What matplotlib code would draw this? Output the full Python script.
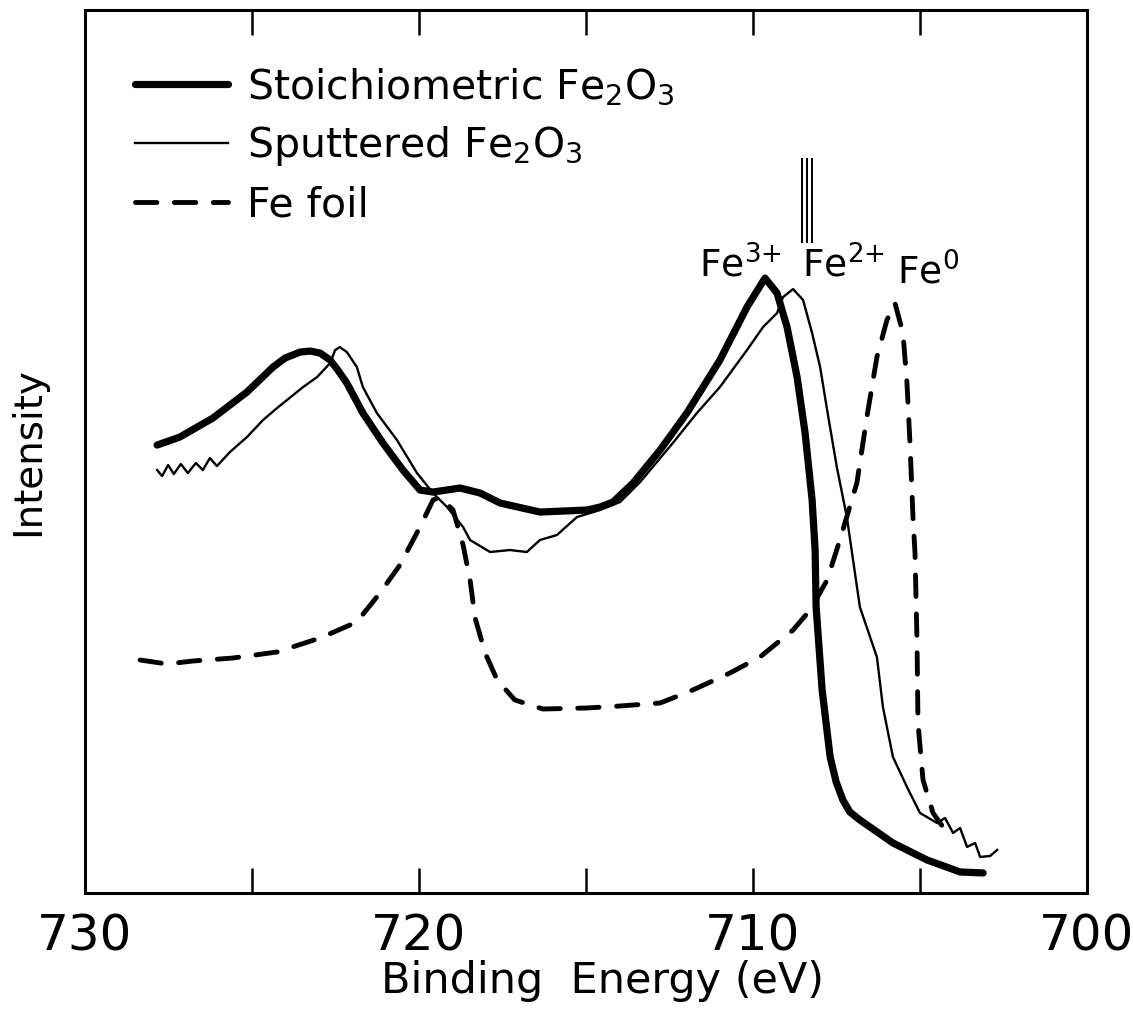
import numpy as np
import matplotlib
matplotlib.use("Agg")
import matplotlib.pyplot as plt
from matplotlib.ticker import MultipleLocator

plt.rcParams['font.family'] = ['DejaVu Sans']
plt.rcParams['mathtext.fontset'] = 'dejavusans'

# binding energy (eV) / intensity (arb. units)
stoich_e = [727.84, 727.16, 726.17, 725.15, 724.37, 724.01, 723.56, 723.26, 722.96, 722.66,
            722.43, 722.16, 721.68, 721.08, 720.48, 719.97, 719.58, 718.77, 718.17, 717.57,
            716.38, 714.97, 714.58, 714.19, 713.59, 712.78, 711.98, 710.99, 710.18, 709.64,
            709.28, 708.98, 708.68, 708.44, 708.23, 708.14, 708.11, 707.93, 707.69, 707.51,
            707.31, 707.10, 706.80, 705.81, 704.79, 703.80, 703.11]
stoich_i = [4.48, 4.56, 4.75, 5.01, 5.26, 5.35, 5.41, 5.42, 5.40, 5.33,
            5.23, 5.10, 4.80, 4.50, 4.23, 4.03, 4.01, 4.05, 4.00, 3.90,
            3.81, 3.83, 3.86, 3.91, 4.10, 4.43, 4.80, 5.33, 5.86, 6.15,
            6.00, 5.66, 5.16, 4.60, 3.93, 3.43, 2.86, 2.03, 1.36, 1.11,
            0.93, 0.81, 0.73, 0.50, 0.33, 0.21, 0.20]

sputt_e = [727.84, 727.69, 727.51, 727.34, 727.13, 726.92, 726.68, 726.47, 726.26, 726.05,
           725.66, 725.15, 724.67, 724.25, 723.47, 723.05, 722.66, 722.51, 722.37, 722.16,
           721.86, 721.68, 721.26, 720.66, 720.06, 719.58, 719.16, 718.68, 718.47, 717.87,
           717.28, 716.77, 716.38, 715.87, 715.27, 714.58, 713.98, 713.38, 712.40, 711.68,
           710.99, 710.18, 709.70, 709.28, 709.10, 708.80, 708.50, 708.23, 707.99, 707.78,
           707.49, 707.19, 706.80, 706.29, 706.11, 705.81, 705.39, 705.00, 704.49, 704.25,
           704.01, 703.80, 703.59, 703.35, 703.20, 702.90, 702.69]
sputt_i = [4.23, 4.17, 4.28, 4.19, 4.29, 4.20, 4.30, 4.23, 4.35, 4.27,
           4.41, 4.56, 4.73, 4.85, 5.06, 5.16, 5.30, 5.43, 5.46, 5.41,
           5.26, 5.06, 4.80, 4.53, 4.20, 4.00, 3.86, 3.66, 3.53, 3.41,
           3.43, 3.41, 3.53, 3.58, 3.76, 3.83, 3.91, 4.11, 4.50, 4.80,
           5.06, 5.43, 5.66, 5.80, 5.96, 6.04, 5.93, 5.60, 5.26, 4.83,
           4.26, 3.76, 2.86, 2.36, 1.86, 1.36, 1.06, 0.80, 0.70, 0.75,
           0.60, 0.65, 0.46, 0.50, 0.36, 0.37, 0.43]

foil_e = [728.35, 727.54, 726.77, 725.57, 724.25, 722.96, 721.86, 721.17, 720.57, 719.97,
          719.58, 719.37, 718.98, 718.68, 718.47, 718.32, 718.02, 717.66, 717.13, 716.29,
          714.97, 713.98, 712.78, 711.80, 710.69, 709.79, 708.80, 708.29, 707.78, 707.40,
          706.89, 706.59, 706.29, 705.99, 705.75, 705.51, 705.39, 705.30, 705.21, 705.15,
          705.09, 705.06, 704.91, 704.61, 704.25]
foil_i = [2.33, 2.29, 2.32, 2.35, 2.41, 2.55, 2.71, 3.00, 3.28, 3.66,
          3.93, 3.96, 3.83, 3.48, 3.13, 2.75, 2.40, 2.13, 1.93, 1.84,
          1.85, 1.87, 1.90, 2.03, 2.20, 2.36, 2.63, 2.83, 3.13, 3.53,
          4.10, 4.76, 5.36, 5.73, 5.90, 5.60, 5.10, 4.50, 3.76, 3.40,
          2.53, 1.70, 1.13, 0.80, 0.63]

labels = ["Stoichiometric Fe$_2$O$_3$", "Sputtered Fe$_2$O$_3$", "Fe foil"]

# oxidation state labels (left edge energy, baseline intensity)
states = ["Fe$^{3{+}}$", "Fe$^{2{+}}$", "Fe$^{0}$"]
state_e = [711.62, 708.53, 705.69]
state_i = [6.16, 6.16, 6.09]
mark_e = [708.53, 708.38, 708.23]

fig = plt.figure(figsize=(11.33, 10.13), dpi=100)
ax = fig.add_axes([0.075, 0.1185, 0.8844, 0.8715])

ax.plot(stoich_e, stoich_i, color='black', lw=5.2, solid_capstyle='round',
        solid_joinstyle='round', label=labels[0])
ax.plot(sputt_e, sputt_i, color='black', lw=1.7, solid_joinstyle='round', label=labels[1])
ax.plot(foil_e, foil_i, color='black', lw=3.5, dashes=(4.4, 3.6),
        dash_capstyle='round', label=labels[2])

ax.vlines(mark_e, 6.50, 7.35, color='black', lw=1.4)
for s, e, i in zip(states, state_e, state_i):
    ax.text(e, i, s, fontsize=27, ha='left', va='baseline')

ax.set_xlim(730, 700)
ax.set_ylim(0, 8.83)
ax.xaxis.set_major_locator(MultipleLocator(10))
ax.xaxis.set_minor_locator(MultipleLocator(5))
ax.tick_params(axis='x', which='both', direction='in', length=18, width=1.8,
               top=True, labelsize=36, pad=14)
ax.tick_params(axis='y', which='both', left=False, labelleft=False)
for s in ax.spines.values():
    s.set_linewidth(2.2)

ax.set_xlabel("Binding  Energy (eV)", fontsize=31)
ax.xaxis.set_label_coords(0.516, -0.076)
ax.set_ylabel("Intensity", fontsize=28, labelpad=27)

ax.legend(loc='upper left', frameon=False, fontsize=29.5, handlelength=2.27,
          handletextpad=0.45, labelspacing=0.42, borderaxespad=0.0,
          bbox_to_anchor=(0.034, 0.955))

fig.savefig("out.png", dpi=100)
